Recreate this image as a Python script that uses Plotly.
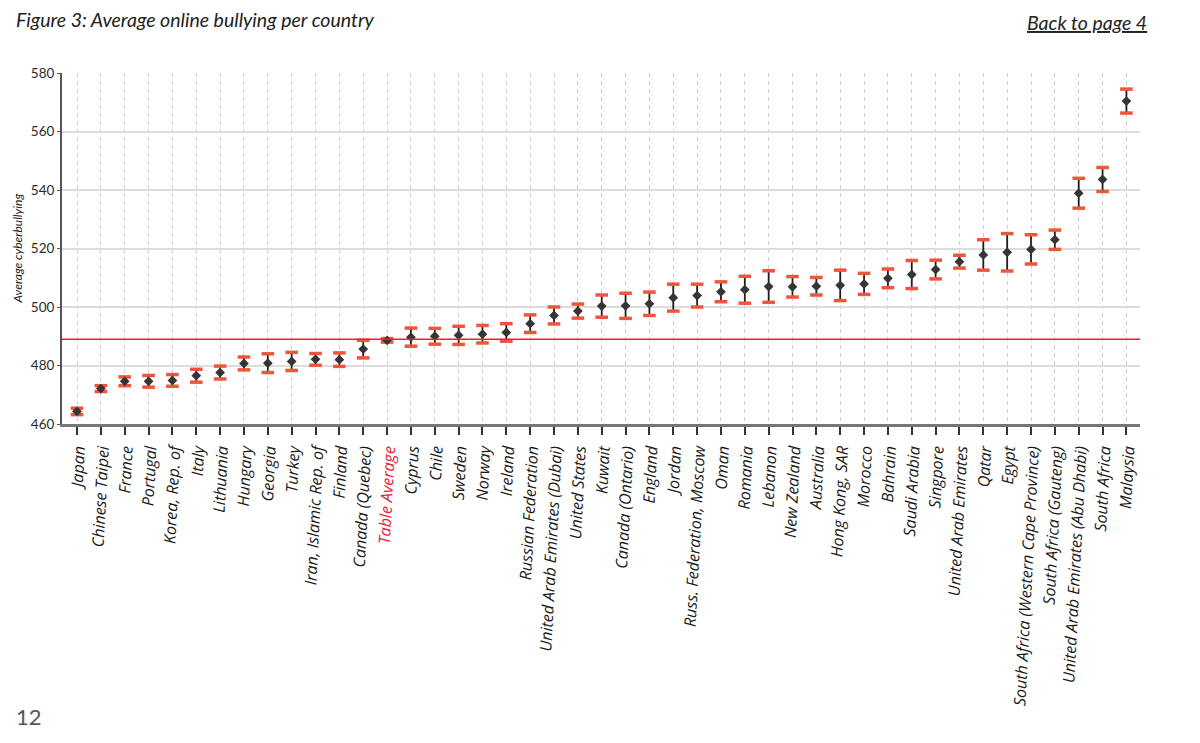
import plotly.graph_objects as go

countries = ["Japan", "Chinese Taipei", "France", "Portugal", "Korea, Rep. of", "Italy", "Lithuania",
             "Hungary", "Georgia", "Turkey", "Iran, Islamic Rep. of", "Finland", "Canada (Quebec)",
             "Table Average", "Cyprus", "Chile", "Sweden", "Norway", "Ireland", "Russian Federation",
             "United Arab Emirates (Dubai)", "United States", "Kuwait", "Canada (Ontario)", "England",
             "Jordan", "Russ. Federation, Moscow", "Oman", "Romania", "Lebanon", "New Zealand",
             "Australia", "Hong Kong, SAR", "Morocco", "Bahrain", "Saudi Arabia", "Singpore",
             "United Arab Emirates", "Qatar", "Egypt", "South Africa (Western Cape Province)",
             "South Africa (Gauteng)", "United Arab Emirates (Abu Dhabi)", "South Africa", "Malaysia"]

means = [464.3, 472.1, 474.6, 474.6, 474.9, 476.5, 477.6, 480.7, 480.8, 481.4, 482.1, 482.0, 485.6,
         488.6, 489.7, 490.0, 490.3, 490.7, 491.3, 494.3, 497.1, 498.6, 500.3, 500.4, 501.1,
         503.2, 503.9, 505.2, 505.9, 507.0, 506.9, 507.1, 507.4, 507.9, 509.8, 511.1, 512.8,
         515.5, 517.8, 518.7, 519.7, 523.0, 538.9, 543.6, 570.4]

errors = [1.1, 1.0, 1.5, 2.0, 2.0, 2.2, 2.2, 2.2, 3.2, 3.1, 2.0, 2.3, 3.0,
          0.6, 3.1, 2.7, 3.1, 3.0, 3.0, 3.0, 2.9, 2.4, 3.8, 4.3, 4.0,
          4.6, 3.9, 3.4, 4.6, 5.4, 3.5, 3.0, 5.2, 3.6, 3.2, 4.8, 3.2,
          2.2, 5.2, 6.4, 5.0, 3.3, 5.1, 4.1, 4.1]

table_average = 489.0
y_ticks = [460, 480, 500, 520, 540, 560, 580]

RED = "#dc0a20"
W, H = 1200, 743
L, R, T, B = 62, 1140, 73, 424

x = list(range(len(countries)))
ticktext = [f"<span style='color:#e8203a'>{c}</span>" if c == "Table Average" else c for c in countries]

upper = [m + e for m, e in zip(means, errors)]
lower = [m - e for m, e in zip(means, errors)]

fig = go.Figure()

# stems
fig.add_trace(go.Scatter(
    x=x, y=means, mode="markers",
    marker=dict(size=1, color="rgba(0,0,0,0)"),
    error_y=dict(type="data", array=errors, visible=True, color="#1e1e1e", thickness=1.8, width=0),
    hoverinfo="skip", showlegend=False))

# caps
fig.add_trace(go.Scatter(
    x=x + x, y=upper + lower, mode="markers",
    marker=dict(symbol="line-ew-open", size=9, line=dict(color=RED, width=3.5)),
    hoverinfo="skip", showlegend=False))

# means
fig.add_trace(go.Scatter(
    x=x, y=means, mode="markers",
    marker=dict(symbol="diamond", size=7.5, color="#353535"),
    showlegend=False))

fig.add_shape(type="line", xref="paper", yref="y", x0=0, x1=1, y0=table_average, y1=table_average,
              line=dict(color="#e8203a", width=1.5), layer="above")

def px(xp):
    return (xp - L) / (R - L)

def py(yp):
    return (B - yp) / (B - T)

fig.update_layout(
    width=W, height=H,
    margin=dict(l=L, r=W - R, t=T, b=H - B),
    paper_bgcolor="white", plot_bgcolor="white",
    font=dict(family="Lato, Open Sans, sans-serif", color="#222"),
    xaxis=dict(
        range=[-0.63, 44.57], tickmode="array", tickvals=x, ticktext=ticktext,
        tickangle=-87, tickfont=dict(size=16, style="italic", color="#1a1a1a", family="Open Sans"),
        showgrid=True, gridcolor="#cfcfcf", griddash="4px,4px", gridwidth=1,
        showline=True, linecolor="#777777", linewidth=2.5,
        ticks="outside", ticklen=8, tickcolor="#333", tickwidth=1.5,
        zeroline=False, fixedrange=True),
    yaxis=dict(
        range=[460, 580], tickvals=y_ticks, tickfont=dict(size=13.5, color="#2a2a2a"),
        showgrid=True, gridcolor="#dcdcdc", gridwidth=1.5,
        showline=True, linecolor="#555555", linewidth=2,
        ticks="outside", ticklen=3, tickcolor="#555",
        zeroline=False, fixedrange=True),
)

fig.add_annotation(x=px(14), y=py(20), xref="paper", yref="paper", xanchor="left", yanchor="middle",
                   text="Figure 3: Average online bullying per country", showarrow=False,
                   font=dict(size=19.5, style="italic", color="#222", family="Lato"))
fig.add_annotation(x=px(1149), y=py(22), xref="paper", yref="paper", xanchor="right", yanchor="middle",
                   text="<u>Back to page 4</u>", showarrow=False,
                   font=dict(size=19.5, style="italic", color="#222", family="Lato"))
fig.add_annotation(x=px(17.5), y=py(249), xref="paper", yref="paper", xanchor="center", yanchor="middle",
                   text="Average cyberbullying", textangle=-90, showarrow=False,
                   font=dict(size=12, style="italic", color="#222", family="Lato"))
fig.add_annotation(x=px(14), y=py(716), xref="paper", yref="paper", xanchor="left", yanchor="middle",
                   text="12", showarrow=False,
                   font=dict(size=22, color="#555", family="Lato"))

fig.write_html("out.html")
